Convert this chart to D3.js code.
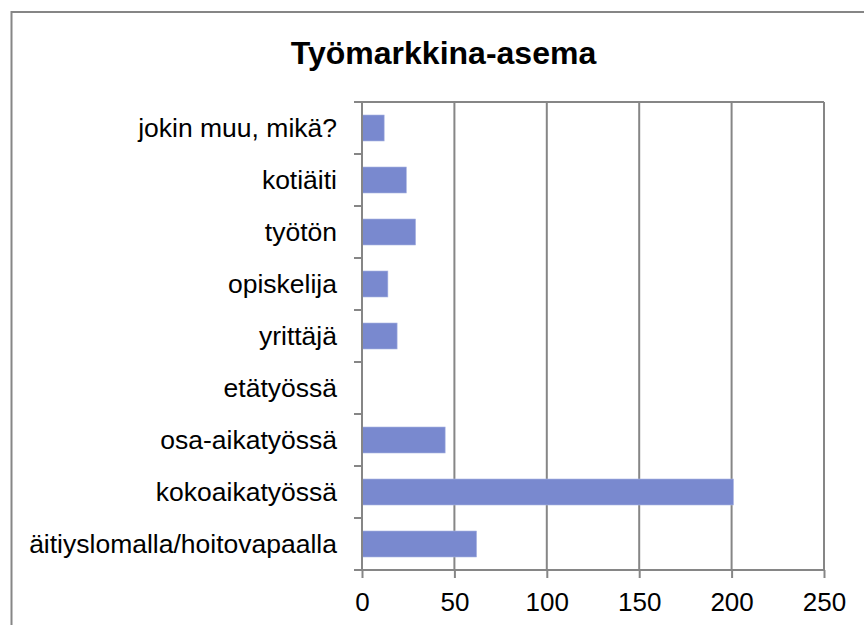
<html>
<head>
<script src="https://d3js.org/d3.v7.min.js"></script>
<style>
  body { margin: 0; background: #fff; }
  text { font-family: "Liberation Sans", Arial, sans-serif; }
</style>
</head>
<body>
<svg id="chart" width="864" height="625"></svg>
<script>
const categories = ['jokin muu, mikä?', 'kotiäiti', 'työtön', 'opiskelija', 'yrittäjä',
                    'etätyössä', 'osa-aikatyössä', 'kokoaikatyössä', 'äitiyslomalla/hoitovapaalla'];
const counts = [12, 24, 29, 14, 19, 0, 45, 201, 62];
const xTicks = [0, 50, 100, 150, 200, 250];

const svg = d3.select('#chart');
const margin = { top: 102, left: 362, right: 40, bottom: 55 };
const w = 824 - margin.left;
const h = 570 - margin.top;
const grey = '#868686';

// outer frame
svg.append('rect')
  .attr('x', 11.5).attr('y', 12)
  .attr('width', 900).attr('height', 700)
  .attr('fill', 'none').attr('stroke', grey).attr('stroke-width', 2);

svg.append('text')
  .attr('x', 443.5).attr('y', 64)
  .attr('text-anchor', 'middle')
  .attr('font-size', 32).attr('font-weight', 'bold')
  .text('Työmarkkina-asema');

const x = d3.scaleLinear().domain([0, 250]).range([0, w]);
const y = d3.scaleBand().domain(categories).range([0, h]).paddingInner(0.5).paddingOuter(0.25);
const band = d3.scaleBand().domain(categories).range([0, h]);

const g = svg.append('g').attr('transform', `translate(${margin.left},${margin.top})`);

// vertical gridlines
g.selectAll('line.grid').data(xTicks.slice(1))
  .join('line').attr('class', 'grid')
  .attr('x1', d => x(d)).attr('x2', d => x(d))
  .attr('y1', 0).attr('y2', h)
  .attr('stroke', grey).attr('stroke-width', 2);

// top border of plot
g.append('line').attr('x1', 0).attr('x2', w).attr('y1', 0).attr('y2', 0)
  .attr('stroke', grey).attr('stroke-width', 2);

g.selectAll('rect.bar').data(categories)
  .join('rect').attr('class', 'bar')
  .attr('x', 0)
  .attr('y', d => y(d))
  .attr('width', (d, i) => x(counts[i]))
  .attr('height', y.bandwidth())
  .attr('fill', '#7989cf')
  .attr('stroke', '#a9b4e2').attr('stroke-width', 0.6);

// y axis with ticks at band boundaries
const yBounds = categories.map(c => band(c)).concat([h]);
g.selectAll('line.ytick').data(yBounds)
  .join('line').attr('class', 'ytick')
  .attr('x1', -8).attr('x2', 0)
  .attr('y1', d => d).attr('y2', d => d)
  .attr('stroke', grey).attr('stroke-width', 2);
g.append('line').attr('x1', 0).attr('x2', 0).attr('y1', 0).attr('y2', h)
  .attr('stroke', grey).attr('stroke-width', 2);

g.selectAll('text.ylab').data(categories)
  .join('text').attr('class', 'ylab')
  .attr('x', -25)
  .attr('y', d => band(d) + band.bandwidth() / 2)
  .attr('dy', '0.35em')
  .attr('text-anchor', 'end')
  .attr('font-size', 26.5)
  .text(d => d);

// x axis
const xAxis = g.append('g').attr('transform', `translate(0,${h})`)
  .call(d3.axisBottom(x).tickValues(xTicks).tickSize(8).tickPadding(15));
xAxis.select('.domain').attr('stroke', grey).attr('stroke-width', 2).attr('d', `M-8,0H${w}`);
xAxis.selectAll('.tick line').attr('stroke', grey).attr('stroke-width', 2);
xAxis.selectAll('.tick text').attr('font-size', 26).attr('fill', '#000')
  .attr('font-family', '"Liberation Sans", Arial, sans-serif');
</script>
</body>
</html>
